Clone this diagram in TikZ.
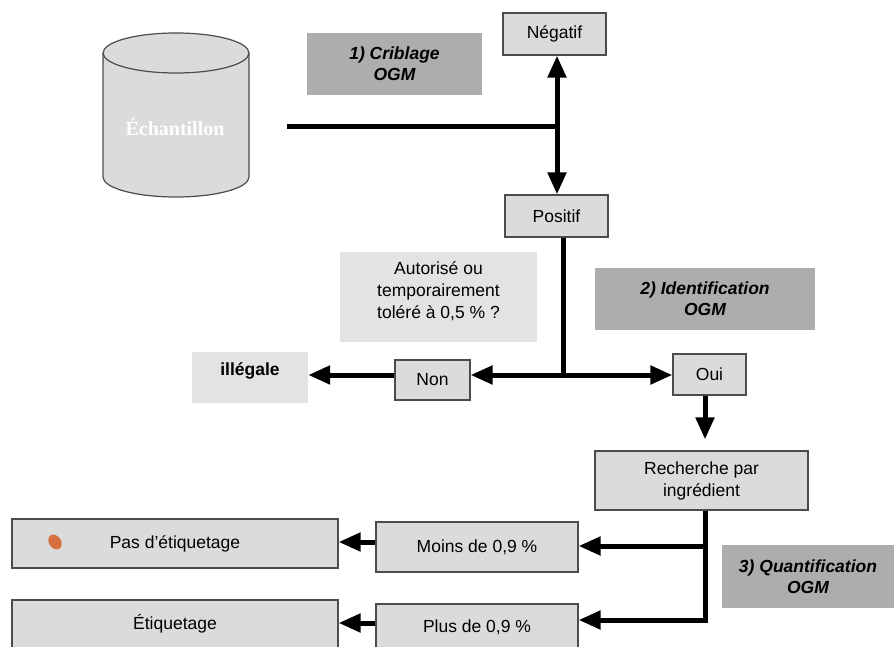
\documentclass[tikz,border=0pt]{standalone}
\usepackage{fontspec}
\setmainfont{Liberation Sans}
\newfontfamily\serifface{Liberation Serif}
\usetikzlibrary{%
  arrows.meta,%
}

\definecolor{boxfill}{gray}{0.86}
\definecolor{notefill}{gray}{0.89}
\definecolor{stagefill}{gray}{0.68}
\definecolor{boxline}{gray}{0.3}
\definecolor{smudge}{RGB}{214,112,62}

\begin{document}
\begin{tikzpicture}[x=1pt, y=-1pt, font=\fontsize{17.5}{22}\selectfont,
    >={Triangle[length=22pt, width=18pt]},
    box/.style={draw=boxline, line width=1.2pt, fill=boxfill, inner sep=0pt, align=center},
    note/.style={fill=notefill, inner sep=0pt, align=center},
    stage/.style={fill=stagefill, inner sep=0pt, align=center, font=\fontsize{17.5}{21}\selectfont\bfseries\itshape},
    link/.style={line width=5pt}]

      \clip (0, 0) rectangle (896, 647);
      \fill [white] (0, 0) rectangle (896, 647);

      % sample cylinder
      \filldraw [fill=boxfill, draw=boxline, line width=1.2pt]
        (103, 53) -- (103, 177) arc (180:0:73 and 20) -- (249, 53);
      \filldraw [fill=boxfill, draw=boxline, line width=1.2pt] (176, 53) ellipse (73 and 20);
      \node (sample) at (175, 127) {\fontsize{20}{24}\serifface\bfseries\color{white}Échantillon};

      \node [stage, minimum width=175pt, minimum height=62pt] (screen) at (394.5, 64)
        {1) Criblage\\OGM};
      \node [box, minimum width=103pt, minimum height=42pt] (neg) at (554.5, 34) {Négatif};
      \node [box, minimum width=103pt, minimum height=42pt] (pos) at (556.5, 216) {Positif};

      \node [note, minimum width=197pt, minimum height=90pt] (question) at (438.5, 297)
        {Autorisé ou\\temporairement\\toléré à 0,5 \% ?\\[-8pt]};
      \node [stage, minimum width=220pt, minimum height=62pt] (ident) at (705, 299)
        {2) Identification\\OGM};

      \node [note, minimum width=116pt, minimum height=51pt, text depth=16pt, font=\fontsize{17.5}{22}\selectfont\bfseries]
        (illegal) at (250, 377.5) {illégale};
      \node [box, minimum width=75pt, minimum height=40pt] (non) at (432.5, 380) {Non};
      \node [box, minimum width=73pt, minimum height=41pt] (oui) at (709.5, 374.5) {Oui};

      \node [box, minimum width=213pt, minimum height=59pt] (search) at (701.5, 480.5)
        {Recherche par\\ingrédient};
      \node [stage, minimum width=172pt, minimum height=63pt] (quant) at (808, 576.5)
        {3) Quantification\\OGM};

      \node [box, minimum width=202pt, minimum height=50pt] (less) at (477, 547) {Moins de 0,9 \%};
      \node [box, minimum width=202pt, minimum height=46pt] (more) at (477, 627) {Plus de 0,9 \%};
      \node [box, minimum width=326pt, minimum height=49pt] (nolabel) at (175, 543.5) {Pas d’étiquetage};
      \node [box, minimum width=326pt, minimum height=48pt] (label) at (175, 624) {Étiquetage};
      \fill [smudge, rotate around={35:(55, 542)}] (55, 542) ellipse (6 and 8);

      \coordinate (sample-out) at (287, 127);
      \coordinate (j1) at (557, 127);
      \coordinate (j2) at (563, 375);
      \coordinate (q1) at (705, 546);
      \coordinate (q2) at (705, 620);

      \draw [link] (sample-out) -- (j1);
      \draw [link, ->] (j1) -- (j1 |- neg.south);
      \draw [link, ->] (j1) -- (j1 |- pos.north);

      \draw [link] (j2 |- pos.south) -- (j2);
      \draw [link, ->] (j2) -- (j2 -| non.east);
      \draw [link, ->] (j2) -- (j2 -| oui.west);
      \draw [link, ->] (j2 -| non.west) -- (j2 -| illegal.east);

      \draw [link, ->, shorten >=11pt] (oui.south -| q1) -- (search.north -| q1);

      \draw [link, ->] (search.south -| q2) -- (q2) -- (q2 -| more.east);
      \draw [link, ->] (q1) -- (q1 -| less.east);
      \draw [link, ->] (less.west |- 0, 542) -- (nolabel.east |- 0, 542);
      \draw [link, ->] (more.west |- 0, 623) -- (label.east |- 0, 623);

\end{tikzpicture}
\end{document}
